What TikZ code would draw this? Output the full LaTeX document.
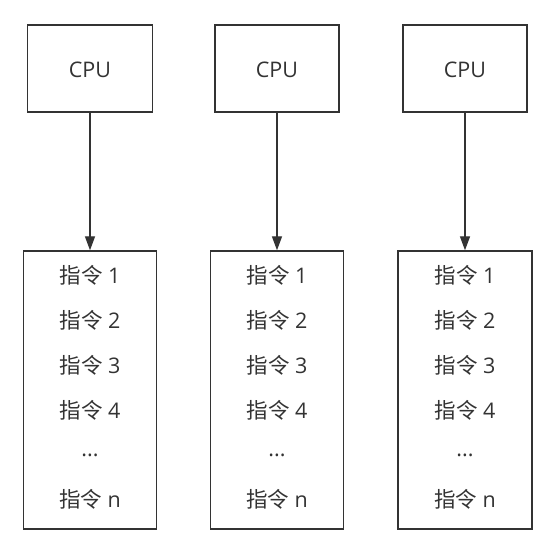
\documentclass[tikz,border=0pt]{standalone}
\usepackage{fontspec}
\setmainfont{Open Sans}
\newfontfamily\cjkf{Noto Sans CJK SC}
\usetikzlibrary{arrows.meta}
\definecolor{ln}{HTML}{333333}
\definecolor{tx}{HTML}{333333}
\newcommand{\zl}{{\cjkf 指令}}
\tikzset{
  box/.style={draw=ln, line width=1.4pt, fill=white},
  lbl/.style={text=tx, font=\fontsize{21.5}{21.5}\selectfont, inner sep=0pt},
  conn/.style={draw=ln, line width=1.4pt, -{Triangle[length=14pt,width=10pt]}}
}
\begin{document}
\begin{tikzpicture}[x=1pt,y=-1pt]
\useasboundingbox (0,0) rectangle (558,556);
\foreach \i/\cx/\cl/\cr/\ll/\lr in {1/90/28/153/24/157, 2/277/216/340/211/344, 3/465/403/527/399/533}{
  \node[box, minimum width=\cr-\cl, minimum height=87, inner sep=0pt] (cpu\i) at (\cx,68.5) {};
  \node[lbl] (cpul\i) at (\cx,70) {CPU};
  \node[box, minimum width=\lr-\ll, minimum height=278, inner sep=0pt] (mem\i) at (\cx,390) {};
  \node[lbl] (a\i) at (\cx,275) {\zl{} 1};
  \node[lbl] (b\i) at (\cx,320) {\zl{} 2};
  \node[lbl] (c\i) at (\cx,365) {\zl{} 3};
  \node[lbl] (d\i) at (\cx,410) {\zl{} 4};
  \node[lbl] (e\i) at (\cx,455) {...};
  \node[lbl] (f\i) at (\cx,499) {\zl{} n};
  \draw[conn] (cpu\i.south) -- (mem\i.north);
}
\end{tikzpicture}
\end{document}
